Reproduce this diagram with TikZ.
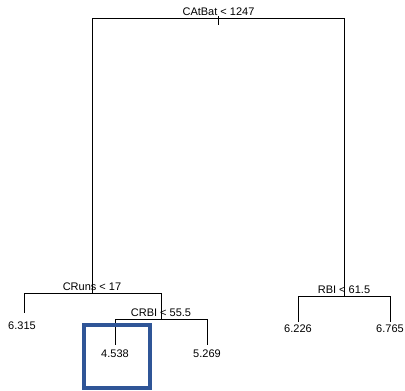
\documentclass[tikz,border=0pt]{standalone}
\usepackage{fontspec}
\setmainfont{Liberation Sans}
\usepackage{tikz}
\usetikzlibrary{calc,positioning}
\definecolor{treeBlack}{RGB}{0,0,0}
\definecolor{boxBlue}{RGB}{47,85,151}
\tikzset{
  branch/.style={treeBlack, line width=1pt},
  splitlabel/.style={anchor=base, inner sep=0pt, font=\fontsize{11}{13}\selectfont},
  leaflabel/.style={anchor=center, inner sep=0pt, font=\fontsize{11}{13}\selectfont}
}

\begin{document}
\begin{tikzpicture}[x=1pt,y=-1pt]
\useasboundingbox (0,0) rectangle (405,391);

% split points and leaf ends
\coordinate (root) at (218,18.5);
\coordinate (rootTop) at (218,16);
\coordinate (rootTick) at (218,25);
\coordinate (cruns) at (92,293);
\coordinate (rbi) at (344,296);
\coordinate (crbi) at (161,319);
\coordinate (leafA) at (24,313);
\coordinate (leafB) at (115,345);
\coordinate (leafC) at (207,345);
\coordinate (leafD) at (298,322);
\coordinate (leafE) at (390,322);

\draw[branch] (rootTop)--(rootTick);
\draw[branch] (root) -| (cruns);
\draw[branch] (root) -| (rbi);
\draw[branch] (cruns) -| (leafA);
\draw[branch] (cruns) -| (crbi);
\draw[branch] (crbi) -| (leafB);
\draw[branch] (crbi) -| (leafC);
\draw[branch] (rbi) -| (leafD);
\draw[branch] (rbi) -| (leafE);

\node[splitlabel] (rootText) at (218.5,15.5) {CAtBat < 1247};
\node[splitlabel] (crunsText) at (92,290) {CRuns < 17};
\node[splitlabel] (crbiText) at (161,316) {CRBI < 55.5};
\node[splitlabel] (rbiText) at (344,293) {RBI < 61.5};

\node[leaflabel] (valA) at (22,325.5) {6.315};
\node[leaflabel] (valB) at (115,353.7) {4.538};
\node[leaflabel] (valC) at (207,353.7) {5.269};
\node[leaflabel] (valD) at (298,329) {6.226};
\node[leaflabel] (valE) at (390,329) {6.765};

\draw[boxBlue, line width=4pt] (83.7,325.3) rectangle (150.3,388);
\end{tikzpicture}
\end{document}
